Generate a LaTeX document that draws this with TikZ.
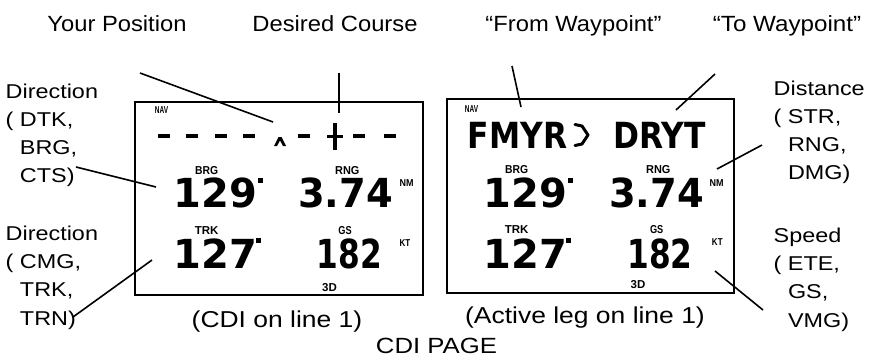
\documentclass[tikz,border=0pt]{standalone}
\usepackage{fontspec}
\usepackage{graphicx}
\setmainfont{Liberation Sans}
\newfontfamily\lcdfont{DejaVu Sans}
\begin{document}
\begin{tikzpicture}[x=1pt,y=-1pt,
  toplbl/.style={inner sep=0pt, anchor=base, font={\fontsize{22}{26}\selectfont}},
  sidelbl/.style={inner sep=0pt, anchor=base west, font={\fontsize{20}{28.2}\selectfont}},
  botlbl/.style={inner sep=0pt, anchor=base, font={\fontsize{23}{27}\selectfont}},
  pagelbl/.style={inner sep=0pt, anchor=base, font={\fontsize{22}{26}\selectfont}},
  ptr/.style={line width=1.6pt},
  frame/.style={line width=1.8pt},
  bigtag/.style={inner sep=0pt, font={\bfseries\fontsize{11.5}{12}\selectfont}},
  smalltag/.style={inner sep=0pt, font={\bfseries\fontsize{10}{11}\selectfont}},
  digits/.style={inner sep=0pt, anchor=base, font={\lcdfont\bfseries\fontsize{40}{40}\selectfont}},
  lcdtxt/.style={inner sep=0pt, anchor=base, font={\lcdfont\bfseries\fontsize{36}{36}\selectfont}},
  bar/.style={line width=3.6pt},
]
\useasboundingbox (0,0) rectangle (869,359);

% ---------- display frames ----------
\draw[frame] (135,102) rectangle (423,295);
\draw[frame] (447,99) rectangle (734,293);

% ---------- left display ----------
\node[smalltag] (navL) at (161.5,110.5) {\scalebox{0.65}[1]{NAV}};
\foreach \cx in {164,192,221,249,304,359,390}
  \draw[bar] (\cx-6,136) -- (\cx+6,136);
\fill (274,146) -- (278.5,137) -- (281.5,137) -- (286,146) -- (283,146) -- (280,140.5) -- (277,146) -- cycle;
\draw[bar] (327,136.5) -- (343,136.5);
\draw[bar] (335,123) -- (335,150);

\node[bigtag] (brgL) at (206.7,170.7) {\scalebox{0.9}[1]{BRG}};
\node[bigtag] (rngL) at (347.3,170.7) {\scalebox{0.95}[1]{RNG}};
\node[smalltag] (nmL) at (406.7,183.3) {\scalebox{0.9}[1]{NM}};
\node[bigtag] (trkL) at (206.7,230.7) {TRK};
\node[bigtag] (gsL) at (345,230.7) {\scalebox{0.8}[1]{GS}};
\node[smalltag] (ktL) at (405,243.3) {\scalebox{0.8}[1]{KT}};
\node[bigtag] (tdL) at (329.5,287.5) {3D};

\node[digits] (brgvL) at (215.5,207) {129};
\fill (258,178) rectangle (263,183);
\node[digits] (rngvL) at (345.5,207) {\scalebox{0.96}[1]{3.74}};
\node[digits] (trkvL) at (215.5,268) {127};
\fill (256,238) rectangle (261,243);
\node[digits] (gsvL) at (349.5,268) {\scalebox{0.78}[1]{182}};

% ---------- right display ----------
\node[smalltag] (navR) at (471.5,109) {\scalebox{0.65}[1]{NAV}};
\node[lcdtxt] (fromwp) at (517.5,148) {\scalebox{0.87}[1]{FMYR}};
\draw[line width=3pt, line join=round, line cap=round] (575,124.5) -- (582,126) -- (588,135) -- (582,144) -- (575,145.5);
\node[lcdtxt] (towp) at (659.5,148) {\scalebox{0.87}[1]{DRYT}};

\node[bigtag] (brgR) at (516.7,170) {\scalebox{0.9}[1]{BRG}};
\node[bigtag] (rngR) at (658.3,170) {\scalebox{0.95}[1]{RNG}};
\node[smalltag] (nmR) at (716.7,183.3) {\scalebox{0.9}[1]{NM}};
\node[bigtag] (trkR) at (516.7,230) {TRK};
\node[bigtag] (gsR) at (656.7,230) {\scalebox{0.8}[1]{GS}};
\node[smalltag] (ktR) at (717.3,241.7) {\scalebox{0.8}[1]{KT}};
\node[bigtag] (tdR) at (638,285) {3D};

\node[digits] (brgvR) at (525.5,207) {129};
\fill (568,178) rectangle (573,183);
\node[digits] (rngvR) at (656.5,207) {\scalebox{0.96}[1]{3.74}};
\node[digits] (trkvR) at (525.5,268) {127};
\fill (566,238) rectangle (571,243);
\node[digits] (gsvR) at (660,268) {\scalebox{0.78}[1]{182}};

% ---------- labels ----------
\node[toplbl] (lpos) at (117,31) {\scalebox{1.08}[1]{Your Position}};
\node[toplbl] (lcourse) at (335,31) {\scalebox{1.08}[1]{Desired Course}};
\node[toplbl] (lfrom) at (573.5,31) {\scalebox{1.08}[1]{“From Waypoint”}};
\node[toplbl] (lto) at (787,31) {\scalebox{1.1}[1]{“To Waypoint”}};

\node[sidelbl] (ldir1) at (5.5,98) {\scalebox{1.17}[1]{\begin{tabular}[t]{@{}l@{}}Direction\\( DTK,\\\hphantom{( }BRG,\\\hphantom{( }CTS)\end{tabular}}};
\node[sidelbl] (ldir2) at (5.5,240.5) {\scalebox{1.17}[1]{\begin{tabular}[t]{@{}l@{}}Direction\\( CMG,\\\hphantom{( }TRK,\\\hphantom{( }TRN)\end{tabular}}};
\node[sidelbl] (ldist) at (773.5,95) {\scalebox{1.17}[1]{\begin{tabular}[t]{@{}l@{}}Distance\\( STR,\\\hphantom{( }RNG,\\\hphantom{( }DMG)\end{tabular}}};
\node[sidelbl] (lspeed) at (773.5,242.5) {\scalebox{1.17}[1]{\begin{tabular}[t]{@{}l@{}}Speed\\( ETE,\\\hphantom{( }GS,\\\hphantom{( }VMG)\end{tabular}}};

\node[botlbl] (lcdi) at (277,327) {\scalebox{1.15}[1]{(CDI on line 1)}};
\node[botlbl] (lleg) at (585,323.5) {\scalebox{1.15}[1]{(Active leg on line 1)}};
\node[pagelbl] (lpage) at (436.5,353) {\scalebox{1.17}[1]{CDI PAGE}};

% ---------- connectors ----------
\coordinate (cpos1) at (140,73);   \coordinate (cpos2) at (273,122);
\coordinate (ccrs1) at (339,73);   \coordinate (ccrs2) at (339,113);
\coordinate (cfrm1) at (512,66);   \coordinate (cfrm2) at (521,107);
\coordinate (cto1) at (715,74);    \coordinate (cto2) at (676,110);
\coordinate (cdA1) at (76,167);    \coordinate (cdA2) at (156,187);
\coordinate (cdB1) at (73,317);    \coordinate (cdB2) at (152,260);
\coordinate (cds1) at (762,145);   \coordinate (cds2) at (717,169);
\coordinate (csp1) at (715,271);   \coordinate (csp2) at (763,310);
\draw[ptr] (cpos1) -- (cpos2);
\draw[ptr] (ccrs1) -- (ccrs2);
\draw[ptr] (cfrm1) -- (cfrm2);
\draw[ptr] (cto1) -- (cto2);
\draw[ptr] (cdA1) -- (cdA2);
\draw[ptr] (cdB1) -- (cdB2);
\draw[ptr] (cds1) -- (cds2);
\draw[ptr] (csp1) -- (csp2);
\end{tikzpicture}
\end{document}
